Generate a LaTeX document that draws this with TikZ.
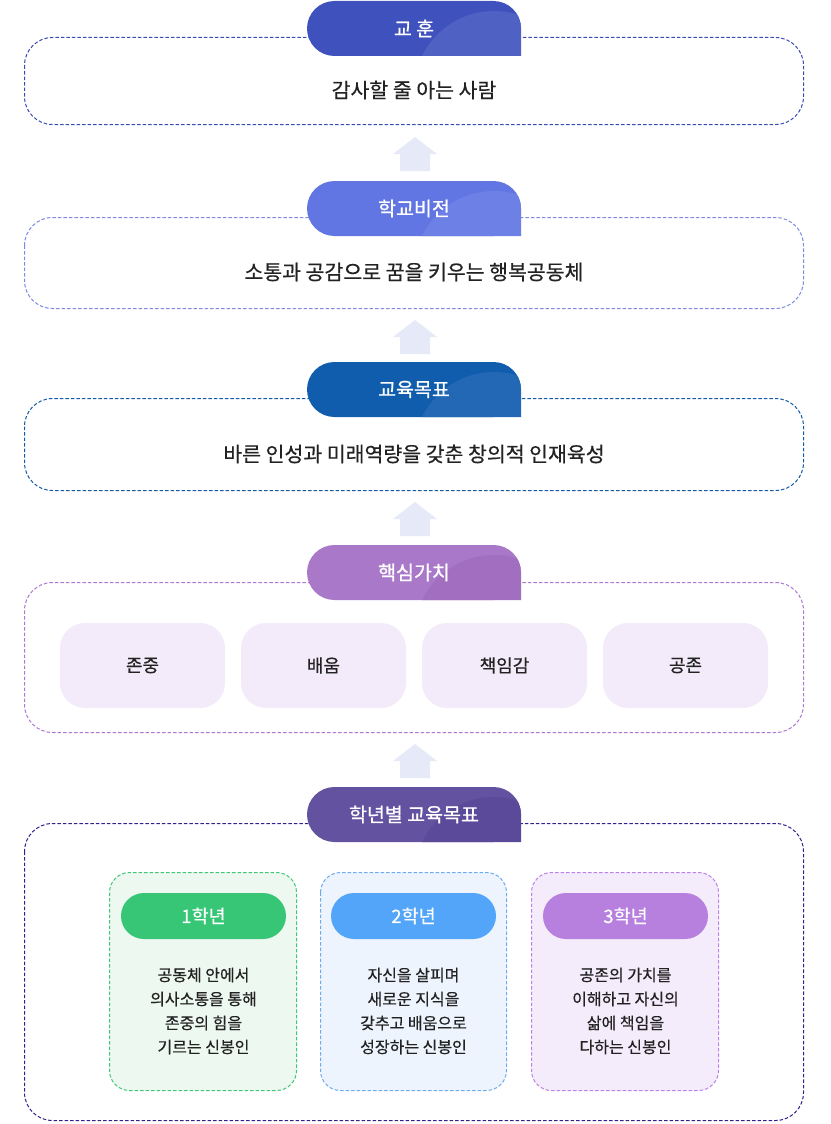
\documentclass[tikz,border=0pt]{standalone}
\usepackage{fontspec}
\setmainfont{Noto Sans CJK KR}
\newfontfamily\medfont{Noto Sans CJK KR}[FakeBold=0.5]
\newfontfamily\semifont{Noto Sans CJK KR}[FakeBold=0.8]
\definecolor{txt}{HTML}{222222}
\definecolor{arrowc}{HTML}{E6E9F7}
\definecolor{tA}{HTML}{3F51BC}\definecolor{oA}{HTML}{4F61C3}\definecolor{bA}{HTML}{3A4AB5}
\definecolor{tB}{HTML}{6276E3}\definecolor{oB}{HTML}{6C80E5}\definecolor{bB}{HTML}{7D89E2}
\definecolor{tC}{HTML}{105DAE}\definecolor{oC}{HTML}{2268B5}\definecolor{bC}{HTML}{1259A9}
\definecolor{tD}{HTML}{AA78C9}\definecolor{oD}{HTML}{A16EC0}\definecolor{bD}{HTML}{AA79D4}
\definecolor{tE}{HTML}{62529F}\definecolor{oE}{HTML}{5A4A99}\definecolor{bE}{HTML}{30228A}
\definecolor{pillfill}{HTML}{F3EBFA}
\definecolor{gAf}{HTML}{EDF8F1}\definecolor{gAb}{HTML}{3FC777}\definecolor{gAp}{HTML}{37C675}
\definecolor{gBf}{HTML}{EDF4FD}\definecolor{gBb}{HTML}{6CAAF2}\definecolor{gBp}{HTML}{52A5F8}
\definecolor{gCf}{HTML}{F4EBFB}\definecolor{gCb}{HTML}{BB80EE}\definecolor{gCp}{HTML}{B77FDE}
\newcommand\mytab[3]{%
  \fill[#2, rounded corners=27.5pt] (307,#1) rectangle (521,{#1+55});
  \fill[#2] (490,{#1+27}) rectangle (521,{#1+55});
  \begin{scope}
    \clip[rounded corners=27.5pt] (307,#1) rectangle (521,{#1+55}) [sharp corners] (490,{#1+27}) rectangle (521,{#1+55});
    \fill[#3] (494,{#1+90}) circle (80pt);
  \end{scope}}
\newcommand\myarrow[1]{%
  \fill[arrowc] (415,#1) -- (437,{#1+17}) -- (430,{#1+17}) -- (430,{#1+34}) -- (400,{#1+34}) -- (400,{#1+17}) -- (393,{#1+17}) -- cycle;}
\tikzset{
  secbox/.style={draw=#1, dash pattern=on 3.5pt off 2pt, line width=1pt, rounded corners=28pt, fill=white},
  maintext/.style={font=\medfont\fontsize{20.5}{23}\selectfont, text=txt},
  tablabel/.style={font=\semifont\fontsize{19.5}{22}\selectfont, text=white},
  valuepill/.style={rectangle, rounded corners=25pt, fill=pillfill, minimum width=165pt, minimum height=85pt, font=\medfont\fontsize{18}{20}\selectfont, text=txt},
  gradebox/.style={draw=#1, dash pattern=on 3.5pt off 2pt, line width=1pt, rounded corners=20pt},
  gradepill/.style={rectangle, rounded corners=23pt, fill=#1, minimum width=165pt, minimum height=46pt, font=\medfont\fontsize{18.5}{20}\selectfont, text=white},
  gradetext/.style={font=\medfont\fontsize{16}{24}\selectfont, text=txt, align=center}
}
\begin{document}
\begin{tikzpicture}[x=1pt,y=-1pt]
\useasboundingbox[fill=white] (0,0) rectangle (830,1124);
% section 1
\draw[secbox=bA] (24.5,37.5) rectangle (803.5,124.5);
\mytab{1}{tA}{oA}
\node[tablabel] (tab1) at (414,28.5) {교 훈};
\node[maintext] (motto) at (414,90) {감사할 줄 아는 사람};
\myarrow{137}
% section 2
\draw[secbox=bB] (24.5,217.5) rectangle (803.5,308.5);
\mytab{181}{tB}{oB}
\node[tablabel] (tab2) at (414,208.5) {학교비전};
\node[maintext] (vision) at (414,272) {소통과 공감으로 꿈을 키우는 행복공동체};
\myarrow{320}
% section 3
\draw[secbox=bC] (24.5,398.5) rectangle (803.5,490.5);
\mytab{362}{tC}{oC}
\node[tablabel] (tab3) at (414,389.5) {교육목표};
\node[maintext] (goal) at (414,454) {바른 인성과 미래역량을 갖춘 창의적 인재육성};
\myarrow{502}
% section 4
\draw[secbox=bD] (24.5,582.5) rectangle (803.5,732.5);
\mytab{545}{tD}{oD}
\node[tablabel] (tab4) at (414,572.5) {핵심가치};
\node[valuepill] (v1) at (142.5,665.5) {존중};
\node[valuepill] (v2) at (323.5,665.5) {배움};
\node[valuepill] (v3) at (504.5,665.5) {책임감};
\node[valuepill] (v4) at (685.5,665.5) {공존};
\myarrow{744}
% section 5
\draw[secbox=bE] (24.5,823.5) rectangle (803.5,1120.5);
\mytab{787}{tE}{oE}
\node[tablabel] (tab5) at (414,814.5) {학년별 교육목표};
\draw[gradebox=gAb, fill=gAf] (109.5,872.5) rectangle (296.5,1090.5);
\draw[gradebox=gBb, fill=gBf] (320.5,872.5) rectangle (506.5,1090.5);
\draw[gradebox=gCb, fill=gCf] (531.5,872.5) rectangle (718.5,1090.5);
\node[gradepill=gAp] (g1) at (203.5,916) {1학년};
\node[gradepill=gBp] (g2) at (413.5,916) {2학년};
\node[gradepill=gCp] (g3) at (625.5,916) {3학년};
\node[gradetext] (t1) at (203.5,1011) {공동체 안에서\\의사소통을 통해\\존중의 힘을\\기르는 신봉인};
\node[gradetext] (t2) at (413.5,1011) {자신을 살피며\\새로운 지식을\\갖추고 배움으로\\성장하는 신봉인};
\node[gradetext] (t3) at (625.5,1011) {공존의 가치를\\이해하고 자신의\\삶에 책임을\\다하는 신봉인};
\end{tikzpicture}
\end{document}
